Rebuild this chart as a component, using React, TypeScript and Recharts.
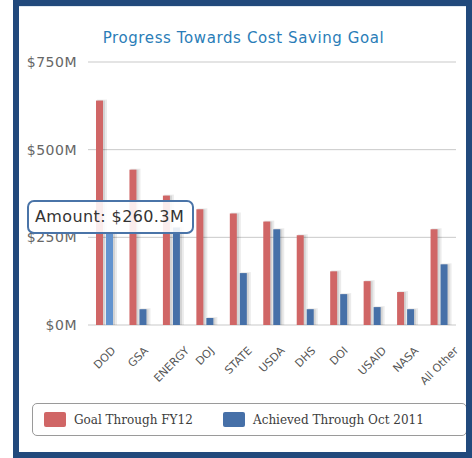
import React from "react";
import { BarChart, Bar, XAxis, YAxis, CartesianGrid, Cell } from "recharts";

const agencies = ["DOD", "GSA", "ENERGY", "DOJ", "STATE", "USDA", "DHS", "DOI", "USAID", "NASA", "All Other"];
const goalFY12 = [640, 443, 369, 330, 318, 295, 256, 153, 125, 94, 273];
const achievedOct2011 = [260.3, 45, 278, 20, 148, 273, 45, 88, 51, 45, 173];
const yTicks = [0, 250, 500, 750];
const boundaryTicks = [1, 2, 3, 4, 5, 6, 7, 8, 9, 10];

const RED = "#d06666";
const BLUE = "#4670a8";
const BLUE_HOVER = "#6394cf";

const data = agencies.map((name, i) => ({
  name,
  goal: goalFY12[i],
  achieved: achievedOct2011[i],
}));

const LABEL_FONT = "11px DejaVu Sans";
let ctx: CanvasRenderingContext2D | null = null;
const textWidth = (s: string) => {
  if (!ctx) ctx = document.createElement("canvas").getContext("2d");
  if (!ctx) return s.length * 7;
  ctx.font = LABEL_FONT;
  return ctx.measureText(s).width;
};

const ShadowBar = (props: any) => {
  const { x, y, width, height, fill } = props;
  if (!height || height <= 0) return null;
  return (
    <g>
      <rect x={x + 1} y={y - 1} width={width + 3} height={height + 1} fill="#000" opacity={0.08} />
      <rect x={x + 2} y={y} width={width} height={height} fill="#000" opacity={0.1} />
      <rect x={x} y={y} width={width} height={height} fill={fill} />
    </g>
  );
};

// labels are centred under the category, rotated, with their top edge near the axis
const AgencyTick = (props: any) => {
  const { x, y, payload } = props;
  const len = textWidth(payload.value);
  const cx = x;
  const cy = y + 13 + ((len + 8) * 0.707) / 2;
  return (
    <text
      x={cx}
      y={cy}
      transform={`rotate(-45, ${cx}, ${cy})`}
      textAnchor="middle"
      dominantBaseline="central"
      fontSize={11}
      fontFamily="DejaVu Sans"
      fill="#555"
    >
      {payload.value}
    </text>
  );
};

export default function App() {
  return (
    <div style={{ position: "absolute", left: 0, top: 0, width: 472, height: 458, background: "#fff" }}>
      <BarChart
        width={472}
        height={458}
        data={data}
        margin={{ top: 62, right: 16, left: 28, bottom: 73 }}
        barSize={7}
        barGap={3}
      >
        <CartesianGrid vertical={false} stroke="#c9c9c9" />
        <YAxis
          domain={[0, 750]}
          ticks={yTicks}
          width={60}
          axisLine={false}
          tickLine={false}
          tickMargin={5}
          tickFormatter={(v) => `$${v}M`}
          tick={{ fontSize: 14, fontFamily: "DejaVu Sans", fill: "#666", letterSpacing: 0.5 }}
        />
        <XAxis
          xAxisId="edges"
          type="number"
          domain={[0, 11]}
          ticks={boundaryTicks}
          height={0}
          stroke="#a9c3df"
          tickSize={5}
          tick={() => <g />}
        />
        <XAxis
          dataKey="name"
          height={60}
          axisLine={false}
          tickLine={false}
          interval={0}
          tick={<AgencyTick />}
        />
        <Bar dataKey="goal" fill={RED} shape={<ShadowBar />} isAnimationActive={false} />
        <Bar dataKey="achieved" fill={BLUE} shape={<ShadowBar />} isAnimationActive={false}>
          {data.map((d, i) => (
            <Cell key={`c-${i}`} fill={i === 0 ? BLUE_HOVER : BLUE} />
          ))}
        </Bar>
      </BarChart>

      <div
        style={{
          position: "absolute",
          left: 0,
          top: 29,
          width: 487,
          textAlign: "center",
          fontFamily: "DejaVu Sans",
          fontSize: 15,
          letterSpacing: 0.6,
          color: "#2a7db8",
        }}
      >
        Progress Towards Cost Saving Goal
      </div>

      <div
        style={{
          position: "absolute",
          left: 27,
          top: 200,
          width: 157,
          height: 30,
          border: "2px solid #4a74a8",
          borderRadius: 7,
          background: "rgba(255,255,255,0.88)",
          fontFamily: "DejaVu Sans",
          fontSize: 16,
          letterSpacing: 0.4,
          color: "#333",
          lineHeight: "30px",
          paddingLeft: 6,
          boxSizing: "content-box",
          whiteSpace: "nowrap",
        }}
      >
        Amount: $260.3M
      </div>

      <div
        style={{
          position: "absolute",
          left: 32,
          top: 403,
          width: 433,
          height: 31,
          border: "1px solid #9a9a9a",
          borderRadius: 5,
          fontFamily: "DejaVu Serif",
          fontSize: 12,
          color: "#3c3c3c",
        }}
      >
        <div style={{ position: "absolute", left: 11, top: 8, width: 22, height: 15, background: RED, borderRadius: 2 }} />
        <div style={{ position: "absolute", left: 41, top: 8, lineHeight: "16px" }}>Goal Through FY12</div>
        <div style={{ position: "absolute", left: 190, top: 8, width: 22, height: 15, background: BLUE, borderRadius: 2 }} />
        <div style={{ position: "absolute", left: 220, top: 8, lineHeight: "16px" }}>Achieved Through Oct 2011</div>
      </div>

      <div
        style={{
          position: "absolute",
          left: 13,
          top: 0,
          width: 447,
          height: 446,
          border: "6px solid #21497c",
          boxShadow: "inset 0 1px 0 #dfe8f0",
          pointerEvents: "none",
        }}
      />
    </div>
  );
}
